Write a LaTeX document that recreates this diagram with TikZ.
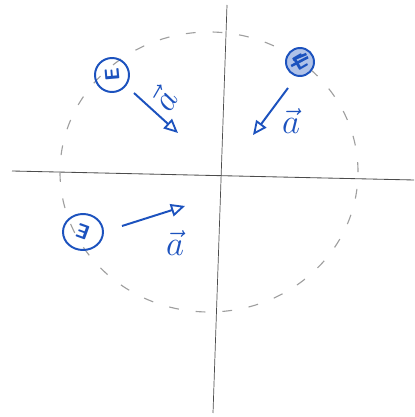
\documentclass[tikz,border=0pt]{standalone}
\usepackage{amsmath}
\usepackage{tikz}
\usetikzlibrary{arrows.meta,shapes.geometric}

\definecolor{ink}{RGB}{28,82,190}

\begin{document}
\begin{tikzpicture}[
  body/.style={circle,draw=ink,line width=1.4pt,text=ink,inner sep=0pt,font=\Large\sffamily\bfseries},
  vec/.style={ink,line width=1.4pt,-{Triangle[open,length=10pt,width=9pt,line width=1.3pt]}},
  lbl/.style={text=ink,font=\fontsize{30}{32}\selectfont}
] 
\useasboundingbox (0,0) rectangle (10.35,10.425);

% axes
\coordinate (h_l) at (0.3,6.15);
\coordinate (h_r) at (10.35,5.925);
\coordinate (v_t) at (5.675,10.3);
\coordinate (v_b) at (5.325,0.1);
\draw[gray!60!black,line width=0.6pt] (h_l) -- (h_r);
\draw[gray!60!black,line width=0.5pt] (v_t) -- (v_b);

% path of the body
\draw[gray!75,line width=0.8pt,dash pattern=on 7pt off 12pt] (5.225,6.125) ellipse (3.725 and 3.5);

\node[body,minimum size=0.85cm] (p_1) at (2.8,8.55) {\rotatebox{95}{E}};
\node[body,minimum size=0.7cm,fill=ink!35] (p_2) at (7.5,8.875) {\rotatebox{30}{E}};
\node[body,minimum width=1cm,minimum height=0.9cm,ellipse] (p_3) at (2.075,4.625) {\rotatebox{160}{E}};
\draw[ink,line width=1.8pt] ([shift={(-0.22,-0.1)}]p_2.center) -- ([shift={(0.2,0.12)}]p_2.center);
\draw[ink,line width=1.8pt] ([shift={(-0.18,0.06)}]p_2.center) -- ([shift={(0.16,0.2)}]p_2.center);

\coordinate (t_1) at (3.35,8.1);
\coordinate (e_1) at (4.45,7.1);
\coordinate (t_2) at (7.2,8.225);
\coordinate (e_2) at (6.325,7.05);
\coordinate (t_3) at (3.05,4.775);
\coordinate (e_3) at (4.625,5.275);

\node[lbl,rotate=60] (l_1) at (4.1,7.95) {$\vec{a}$};
\node[lbl] (l_2) at (7.275,7.4) {$\vec{a}$};
\node[lbl] (l_3) at (4.375,4.35) {$\vec{a}$};

\path[vec]
(t_1) edge (e_1)
(t_2) edge (e_2)
(t_3) edge (e_3)
; %end path
\end{tikzpicture}
\end{document}
